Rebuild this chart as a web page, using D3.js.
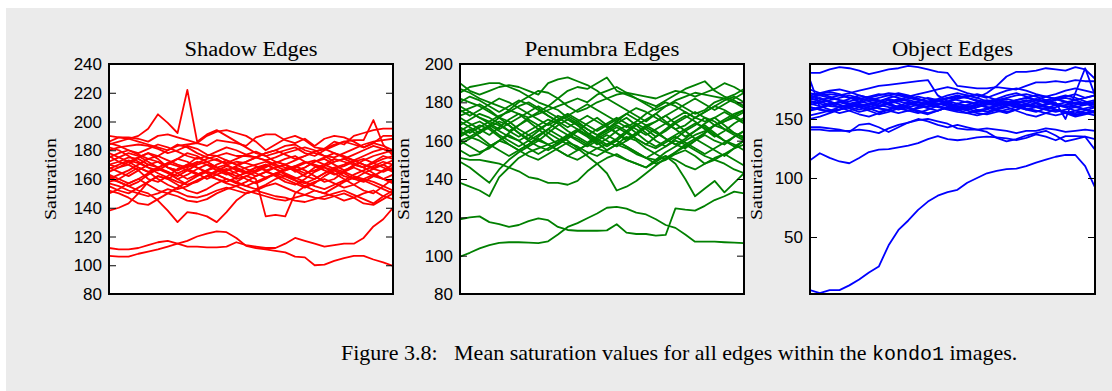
<!DOCTYPE html>
<html>
<head>
<meta charset="utf-8">
<script src="https://cdn.jsdelivr.net/npm/d3@7"></script>
<style>
  body { margin: 0; background: #fff; }
  text { fill: #000; }
</style>
</head>
<body>
<div id="chart"></div>
<script>
// chart values
const panelTitles = ["Shadow Edges", "Penumbra Edges", "Object Edges"];
const yLabel = "Saturation";
const shadowTicks = [80, 100, 120, 140, 160, 180, 200, 220, 240];
const penumbraTicks = [80, 100, 120, 140, 160, 180, 200];
const objectTicks = [50, 100, 150];
const shadowDomain = [80, 240];
const penumbraDomain = [80, 200];
const objectDomain = [1.7, 196.6];

const shadowLines = [
  [184,186,188,190,195,205,199,192,222,186,191,194,190,186,182,178,176,178,180,182,178,176,180,183,186,184,182,185,183,180],
  [170,168,172,175,178,176,173,170,168,171,174,176,173,170,172,175,178,180,177,174,176,179,181,184,186,187,187,201,184,176],
  [190,189,189,188,186,190,191,189,187,185,190,193,194,192,190,186,180,184,188,190,187,182,181,186,184,190,192,194,195,195],
  [186,189,188,186,184,182,180,183,184,185,183,187,186,185,183,189,191,191,187,185,188,183,188,190,189,186,182,185,190,190],
  [180,182,183,184,183,181,178,180,183,181,177,176,178,176,176,175,178,180,183,184,180,178,176,175,178,181,184,186,187,188],
  [176,172,170,175,178,174,168,166,170,175,172,168,170,172,171,169,166,168,170,165,168,172,174,170,166,169,173,176,178,180],
  [172,175,178,176,172,168,165,162,166,170,172,174,170,166,164,166,170,167,163,160,163,168,170,174,172,170,168,172,176,174],
  [168,165,162,166,170,172,168,164,160,163,166,168,164,160,162,165,168,172,170,166,162,160,164,168,170,173,170,167,165,168],
  [165,168,170,166,160,158,162,167,170,168,164,160,158,161,165,168,166,162,158,156,160,165,168,166,162,160,164,167,170,166],
  [162,158,155,158,163,167,165,160,156,158,162,165,167,164,160,157,160,164,167,169,166,162,158,160,165,170,168,164,160,163],
  [158,160,164,168,165,160,156,153,155,159,162,160,157,155,158,162,165,163,160,157,154,157,162,166,164,160,158,162,166,170],
  [155,152,150,154,158,162,160,156,152,150,153,157,160,158,155,153,156,160,162,159,155,152,150,154,158,161,159,156,153,150],
  [152,150,147,143,142,146,150,148,145,144,146,150,153,155,152,150,148,146,145,147,149,152,150,148,145,147,150,152,148,146],
  [138,140,143,150,158,162,160,164,167,164,160,163,166,168,165,162,165,168,170,167,164,166,169,172,174,171,168,171,174,176],
  [160,158,155,152,150,145,138,130,137,136,134,130,137,145,150,152,150,148,147,145,144,146,148,150,152,149,146,143,148,152],
  [170,172,175,174,170,168,171,174,172,168,165,163,160,158,162,160,134,135,134,150,155,158,160,157,154,156,160,163,160,158],
  [175,178,180,177,174,176,180,184,182,178,175,173,171,174,177,179,176,172,170,173,176,179,181,178,175,173,176,179,181,178],
  [182,180,176,172,168,166,170,174,178,176,172,168,166,169,172,175,173,170,168,166,168,172,175,178,176,173,170,168,170,173],
  [160,163,166,170,174,172,168,166,169,172,170,166,163,165,168,170,172,169,166,168,171,173,170,167,169,172,174,171,168,165],
  [150,153,157,160,156,152,150,154,158,162,165,163,160,157,155,158,161,164,162,159,157,160,164,167,165,162,160,158,155,152],
  [178,175,172,168,165,168,171,169,166,163,166,170,173,170,167,164,161,163,166,169,172,170,168,164,160,156,152,150,155,160],
  [167,170,173,171,168,164,161,158,156,159,162,166,169,167,164,166,169,171,174,176,172,169,166,163,165,168,165,162,160,157],
  [185,183,180,178,181,184,182,179,176,174,176,179,182,180,177,175,173,175,178,180,182,180,176,172,174,177,180,183,181,178],
  [163,160,157,160,164,167,164,160,163,167,170,168,165,162,164,168,170,167,164,161,158,155,153,156,159,163,166,169,172,170],
  [157,155,152,150,148,150,153,151,148,147,149,152,154,152,150,152,155,157,154,151,149,147,146,148,150,147,143,142,146,150],
  [112,111,111,112,114,116,117,115,113,113,112.5,112.5,113,116,114,113,112,112,115,119,117,115,113,114,115,115,119,127,132,140],
  [106.5,106,106,108,109.5,111,113,115,117,120,122,123.5,123,119,113.5,112,111,110,109,106,105.5,100,100.5,103,105,106.5,106.5,104,102,99.5]
];

const penumbraLines = [
  [190,186,184,186,188,189,188,186,184,190,192,193,191,189,186,182,184,185,184,183,182,184,186,185,183,185,187,190,188,185],
  [185,188,189,190,190,188,186,183,180,178,182,186,188,187,190,193,186,184,182,180,178,181,184,187,189,191,186,183,181,178],
  [182,180,178,175,172,176,180,183,186,185,182,178,175,177,180,182,179,176,173,170,174,178,180,177,174,176,180,182,180,177],
  [178,175,172,170,168,165,168,172,175,178,176,172,169,166,163,166,170,174,177,175,172,169,166,168,172,175,178,176,173,170],
  [175,177,179,176,172,168,164,161,165,169,173,171,168,164,160,157,160,164,168,171,174,170,166,162,165,169,172,175,172,169],
  [172,169,166,163,167,171,174,170,166,162,158,161,165,169,172,168,164,160,163,167,170,173,169,165,161,164,168,171,174,176],
  [168,171,174,172,169,165,162,165,168,171,169,165,162,159,162,166,169,172,168,164,160,157,161,165,168,172,170,166,163,160],
  [165,162,160,157,160,164,168,171,168,164,161,158,155,158,162,165,168,165,161,158,162,166,170,173,170,166,162,165,169,172],
  [162,165,168,166,162,158,155,158,162,166,170,173,170,166,163,160,157,160,164,168,165,161,158,161,165,168,164,160,157,160],
  [160,157,154,156,160,163,160,156,153,156,159,163,166,163,159,155,158,162,160,156,153,150,154,158,161,158,155,152,156,160],
  [158,161,164,167,170,168,164,160,157,155,158,162,165,162,158,161,165,168,164,160,157,160,163,166,169,167,163,160,158,155],
  [170,167,164,168,172,170,166,163,160,164,168,171,168,164,161,158,161,165,169,166,162,165,169,172,175,172,168,170,173,176],
  [180,183,181,178,175,178,181,179,176,173,170,173,176,179,176,173,170,167,170,174,177,180,178,175,172,175,178,181,183,180],
  [155,152,153,157,160,158,155,152,150,153,156,159,157,154,152,155,158,156,153,151,154,157,160,158,155,152,150,148,145,143],
  [138,136,134,131,141,146,151,154,156,158,160,163,161,158,156,154,152,150,148,146,149,152,150,147,145,148,151,153,156,158],
  [149,146,142,138,145,150,154,157,160,158,155,152,150,153,156,158,160,157,154,151,148,150,153,155,152,148,150,153,150,147],
  [151,150,150,149,148,146,144,141,140,138,138,137,139,144,148,151,153,150,148,146,150,154,157,160,163,165,168,170,172,175],
  [165,168,170,167,163,160,157,160,163,166,163,160,156,152,148,143,134,136,139,143,147,151,154,157,160,163,160,158,162,165],
  [160,162,165,168,165,162,160,163,166,169,166,163,160,157,160,163,160,157,154,151,150,152,148,140,131,135,139,133,138,143],
  [176,173,176,179,182,180,177,174,171,168,171,174,171,168,165,168,171,174,171,168,170,173,176,179,182,179,176,179,182,185],
  [163,166,162,158,155,152,155,158,161,158,155,152,155,158,161,164,167,164,161,158,156,159,162,159,156,153,156,159,162,165],
  [187,185,182,180,178,176,174,172,174,176,178,180,182,180,184,186,188,185,182,179,176,178,181,183,185,184,183,182,184,187],
  [173,175,172,169,166,169,172,175,178,175,172,169,166,163,166,169,172,169,166,163,166,169,172,175,172,170,172,168,164,161],
  [167,164,167,170,173,175,178,180,177,173,170,167,170,173,170,167,164,161,164,167,164,161,158,156,160,164,168,166,164,162],
  [99.5,101.5,103.8,105.5,106.7,107,107,106.8,106.5,107.5,111,115,117,119.5,122,125,125.5,124.5,122.5,121.5,119,116,114.5,111,107.3,107.3,107.3,107,106.8,106.5],
  [119,120,120.5,117.5,116.5,115,116,118,119.5,118.5,115,113.4,113,113,113,113.2,116.4,112,111.3,111.3,110.5,110.8,124.7,124,123.5,126,129,131,133.4,132.5]
];

const objectLines = [
  [189,189,192,194,193,191,188,190,192,193,195,194,192,190,189,178,177,176,176,177,176,175,178,181,181,182,181,183,182,182],
  [168,170,171,170,168,167,166,165,168,170,168,166,165,167,170,172,170,168,172,178,186,190,190,191,193,192,191,194,192,184],
  [164,166,168,170,172,174,176,178,179,180,181,182,183,170,165,163,161,160,162,163,165,163,161,160,158,160,162,164,163,162],
  [160,158,157,158,160,162,161,159,158,160,162,164,163,161,159,158,160,162,164,166,165,163,161,160,162,164,150,172,193,170],
  [172,170,168,166,165,167,169,171,170,168,166,164,163,165,167,169,168,166,164,162,164,166,168,170,169,167,165,163,162,164],
  [168,171,173,171,168,165,163,161,163,165,167,169,167,165,163,161,160,162,164,166,168,170,171,169,166,163,161,160,162,165],
  [165,163,161,160,162,164,166,168,170,172,170,167,165,163,162,160,158,160,163,165,167,165,163,161,160,158,156,155,157,160],
  [162,164,166,168,170,168,165,162,160,158,160,162,164,166,168,166,164,162,160,159,161,163,165,167,165,162,160,162,164,166],
  [160,158,156,158,161,163,161,159,157,155,157,159,161,163,161,159,157,155,154,156,158,160,162,160,158,156,158,160,158,156],
  [175,172,169,166,163,165,168,166,163,160,162,165,168,166,163,160,162,164,166,164,162,160,163,166,169,167,164,161,158,155],
  [170,167,164,162,160,158,160,163,166,163,160,157,155,157,160,163,165,163,160,158,156,158,161,164,166,168,170,168,165,162],
  [157,159,162,165,163,160,157,154,156,159,162,164,162,160,158,156,155,157,159,162,164,162,159,157,155,153,155,157,159,161],
  [166,168,165,162,159,156,158,161,164,167,165,162,160,162,164,167,169,171,169,166,163,160,158,160,163,166,168,166,163,160],
  [163,161,158,155,157,160,163,165,162,159,157,160,163,166,164,161,159,156,158,161,163,161,158,156,159,162,160,157,155,153],
  [158,160,163,160,157,154,152,155,158,161,159,156,154,157,160,158,155,153,155,158,160,157,154,152,155,158,156,153,155,157],
  [168,165,162,164,167,170,168,165,163,166,169,167,164,162,165,168,170,168,165,167,170,172,169,166,164,167,169,171,168,170],
  [153,155,157,160,162,160,158,160,163,160,157,155,158,161,159,157,160,162,160,157,155,158,161,163,160,158,156,154,155,157],
  [183,160,162,164,162,160,162,165,167,165,163,161,163,165,168,170,168,165,163,161,163,166,168,166,164,162,164,166,168,170],
  [150,152,155,158,160,162,159,156,158,161,164,162,159,157,160,163,161,158,156,159,162,164,166,164,161,158,155,152,154,156],
  [170,172,174,175,173,170,168,170,172,171,169,171,173,175,177,175,172,170,168,171,174,176,174,171,169,171,174,176,174,172],
  [143,143,142,141,139,145,146,143,139,143,147,150,148,145,143,145,143,141,139,134,131,133,136,138,140,136,131,133,135,133],
  [141,141,140,140,140,141,140,138,142,145,147,149,150,148,146,142,141,141,142,141,140,138,140,140,142,141,139,140,141,140],
  [115,121,117,114,112.5,117,122,124,124.5,126,127.5,129.5,133,135.5,133,132,133,134.5,135,134.5,133.5,132,134,137,135,132,135.5,135.5,135,124],
  [5,2.5,5,5,9,14,20,25,43,56,64,73,80,85,88,90,96,100,104,106,107.5,108,110,113,115.5,118,119.5,119.5,110,92]
];

const panels = [
  { title: panelTitles[0], lines: shadowLines, ticks: shadowTicks, domain: shadowDomain, color: "#ff0000", x0: 109, x1: 393, titleW: 133, labelX: 50 },
  { title: panelTitles[1], lines: penumbraLines, ticks: penumbraTicks, domain: penumbraDomain, color: "#008000", x0: 460, x1: 744, titleW: 155, labelX: 403 },
  { title: panelTitles[2], lines: objectLines, ticks: objectTicks, domain: objectDomain, color: "#0000ff", x0: 810, x1: 1095, titleW: 121, labelX: 756 }
];

const W = 1112, H = 391;
const plotTop = 64, plotBottom = 294;

const svg = d3.select("#chart").append("svg")
  .attr("width", W)
  .attr("height", H);

// grey page background
svg.append("rect")
  .attr("x", 6).attr("y", 8)
  .attr("width", W - 6).attr("height", H - 8)
  .attr("fill", "#ebebeb");

panels.forEach(function (p, i) {
  const x = d3.scaleLinear().domain([0, p.lines[0].length - 1]).range([p.x0, p.x1]);
  const y = d3.scaleLinear().domain(p.domain).range([plotBottom, plotTop]);

  const g = svg.append("g").attr("class", "panel-" + i);

  g.append("rect")
    .attr("x", p.x0).attr("y", plotTop)
    .attr("width", p.x1 - p.x0).attr("height", plotBottom - plotTop)
    .attr("fill", "#fff");

  g.append("clipPath").attr("id", "clip" + i)
    .append("rect")
    .attr("x", p.x0).attr("y", plotTop)
    .attr("width", p.x1 - p.x0).attr("height", plotBottom - plotTop);

  const line = d3.line()
    .x(function (d, j) { return x(j); })
    .y(function (d) { return y(d); });

  g.append("g")
    .attr("clip-path", "url(#clip" + i + ")")
    .selectAll("path")
    .data(p.lines)
    .enter().append("path")
      .attr("d", line)
      .attr("fill", "none")
      .attr("stroke", p.color)
      .attr("stroke-width", 1.8)
      .attr("stroke-linejoin", "round");

  // left axis, ticks pointing in
  g.append("g")
    .attr("transform", "translate(" + p.x0 + ",0)")
    .call(d3.axisRight(y).tickValues(p.ticks).tickSize(7).tickFormat(""))
    .call(function (a) { a.select(".domain").remove(); })
    .selectAll("line").attr("stroke", "#000").attr("stroke-width", 1);

  // right axis, ticks pointing in
  g.append("g")
    .attr("transform", "translate(" + p.x1 + ",0)")
    .call(d3.axisLeft(y).tickValues(p.ticks).tickSize(7).tickFormat(""))
    .call(function (a) { a.select(".domain").remove(); })
    .selectAll("line").attr("stroke", "#000").attr("stroke-width", 1);

  // tick labels
  g.selectAll(".tlabel")
    .data(p.ticks)
    .enter().append("text")
      .attr("class", "tlabel")
      .attr("x", p.x0 - 7)
      .attr("y", function (d) { return y(d); })
      .attr("dy", "0.36em")
      .attr("text-anchor", "end")
      .style("font-family", "'Liberation Sans', Arial, sans-serif")
      .style("font-size", "17px")
      .text(function (d) { return d; });

  // frame
  g.append("rect")
    .attr("x", p.x0).attr("y", plotTop)
    .attr("width", p.x1 - p.x0).attr("height", plotBottom - plotTop)
    .attr("fill", "none")
    .attr("stroke", "#000")
    .attr("stroke-width", 2);

  g.append("text")
    .attr("x", (p.x0 + p.x1) / 2)
    .attr("y", 56)
    .attr("text-anchor", "middle")
    .attr("textLength", p.titleW)
    .attr("lengthAdjust", "spacingAndGlyphs")
    .style("font-family", "'Liberation Serif', serif")
    .style("font-size", "20px")
    .text(p.title);

  g.append("text")
    .attr("transform", "translate(" + p.labelX + "," + (plotTop + plotBottom) / 2 + ") rotate(-90)")
    .attr("dy", "0.35em")
    .attr("text-anchor", "middle")
    .attr("textLength", 82)
    .attr("lengthAdjust", "spacingAndGlyphs")
    .style("font-family", "'Liberation Serif', serif")
    .style("font-size", "17px")
    .text(yLabel);
});

// caption
const cap = svg.append("text")
  .attr("x", 341)
  .attr("y", 360)
  .style("font-family", "'Liberation Serif', serif")
  .style("font-size", "22px");
cap.append("tspan").text("Figure 3.8:\u00a0\u00a0 Mean saturation values for all edges within the ");
cap.append("tspan").style("font-family", "'Liberation Mono', monospace").style("font-size", "20px").text("kondo1");
cap.append("tspan").text(" images.");
</script>
</body>
</html>
